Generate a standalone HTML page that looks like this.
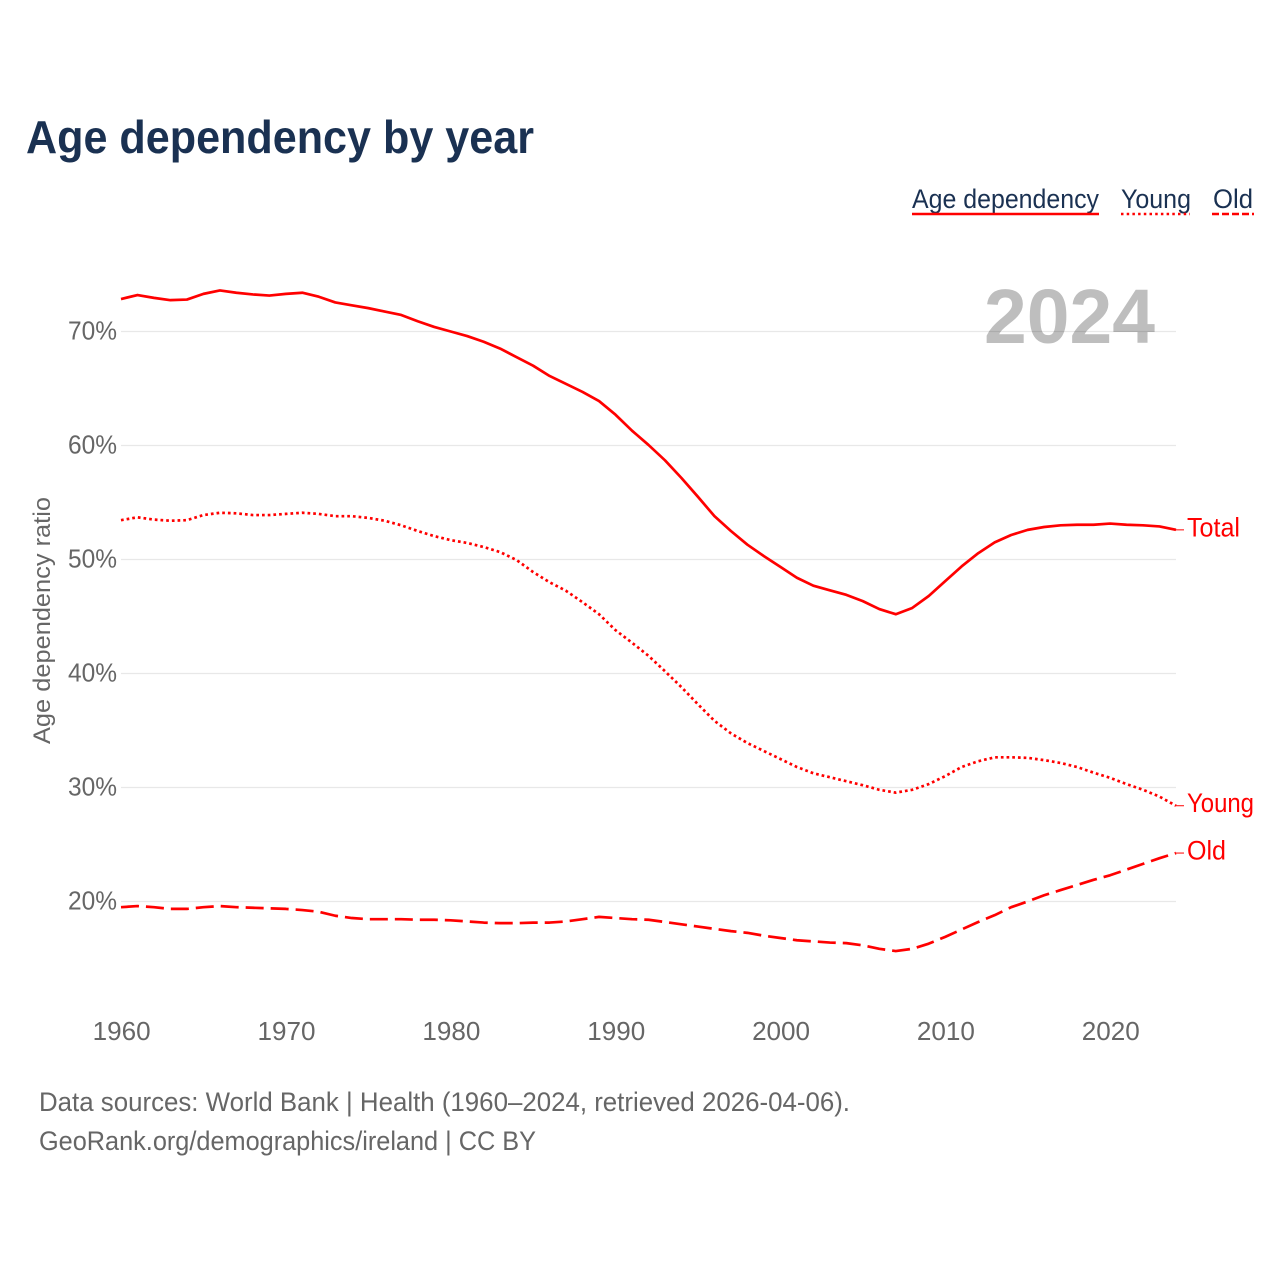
<!DOCTYPE html>
<html lang="en">
<head>
<meta charset="utf-8">
<title>Age dependency by year</title>
<style>
html,body{margin:0;padding:0;background:#fff}
svg{display:block}
text{font-family:"Liberation Sans",sans-serif}
</style>
</head>
<body>
<svg id="chart" width="1280" height="1280" viewBox="0 0 1280 1280" xmlns="http://www.w3.org/2000/svg">
  <rect x="0" y="0" width="1280" height="1280" fill="#fff"/>
  <text x="26" y="153" font-size="46" font-weight="700" fill="#1a3152" textLength="508" lengthAdjust="spacingAndGlyphs">Age dependency by year</text>

  <g>
    <g>
      <text x="912" y="208" font-size="27" fill="#1a3152" textLength="187" lengthAdjust="spacingAndGlyphs">Age dependency</text>
      <line x1="912" y1="214" x2="1099" y2="214" stroke="#ff0000" stroke-width="2.5"/>
    </g>
    <g>
      <text x="1121" y="208" font-size="27" fill="#1a3152" textLength="70" lengthAdjust="spacingAndGlyphs">Young</text>
      <line x1="1121" y1="214" x2="1190" y2="214" stroke="#ff0000" stroke-width="2.5" stroke-dasharray="2.5 3.2"/>
    </g>
    <g>
      <text x="1213" y="208" font-size="27" fill="#1a3152" textLength="40" lengthAdjust="spacingAndGlyphs">Old</text>
      <line x1="1212" y1="214" x2="1254" y2="214" stroke="#ff0000" stroke-width="2.5" stroke-dasharray="7 3"/>
    </g>
  </g>

  <text x="984" y="343" font-size="77" font-weight="700" fill="#bebebe" textLength="171" lengthAdjust="spacingAndGlyphs">2024</text>

  <g id="grid"></g>
  <g id="y-ticks"></g>
  <g id="x-ticks"></g>

  <text transform="translate(50,620.5) rotate(-90)" text-anchor="middle" font-size="24" fill="#666666" textLength="247" lengthAdjust="spacingAndGlyphs">Age dependency ratio</text>

  <g id="series"></g>
  <g id="end-labels"></g>

  <text x="39" y="1111" font-size="27" fill="#666666" textLength="811" lengthAdjust="spacingAndGlyphs">Data sources: World Bank | Health (1960–2024, retrieved 2026-04-06).</text>
  <text x="39" y="1150" font-size="27" fill="#666666" textLength="497" lengthAdjust="spacingAndGlyphs">GeoRank.org/demographics/ireland | CC BY</text>
</svg>
<script>
const startYear = 1960;
const totalValues = [72.85,73.2,72.95,72.75,72.8,73.3,73.6,73.4,73.25,73.15,73.3,73.4,73.05,72.55,72.3,72.05,71.75,71.45,70.9,70.4,70,69.6,69.1,68.5,67.75,67,66.1,65.4,64.7,63.9,62.7,61.3,60.05,58.7,57.15,55.5,53.8,52.5,51.3,50.3,49.35,48.4,47.7,47.3,46.9,46.35,45.65,45.2,45.75,46.8,48.1,49.4,50.55,51.5,52.15,52.6,52.85,53,53.05,53.05,53.15,53.05,53,52.9,52.6];
const youngValues = [53.45,53.7,53.5,53.4,53.45,53.9,54.1,54.05,53.9,53.9,54,54.1,54,53.8,53.8,53.65,53.4,53,52.5,52.05,51.7,51.45,51.1,50.65,49.95,48.9,48,47.25,46.25,45.2,43.8,42.7,41.55,40.2,38.8,37.3,35.85,34.75,33.9,33.2,32.5,31.8,31.25,30.9,30.55,30.2,29.8,29.55,29.8,30.3,31,31.8,32.3,32.65,32.65,32.6,32.4,32.15,31.8,31.3,30.85,30.3,29.8,29.2,28.4];
const oldValues = [19.5,19.6,19.5,19.35,19.35,19.5,19.6,19.5,19.45,19.4,19.35,19.25,19.1,18.75,18.55,18.45,18.45,18.45,18.4,18.4,18.35,18.25,18.15,18.1,18.1,18.15,18.15,18.25,18.45,18.65,18.55,18.45,18.4,18.2,18,17.8,17.6,17.4,17.25,17,16.8,16.6,16.5,16.4,16.35,16.15,15.85,15.65,15.85,16.3,16.9,17.55,18.2,18.8,19.5,20,20.55,21,21.45,21.9,22.3,22.8,23.3,23.8,24.25];
const yTickValues = [20,30,40,50,60,70];
const xTickValues = [1960,1970,1980,1990,2000,2010,2020];

const NS = 'http://www.w3.org/2000/svg';
const xScale = function (year) { return 121 + (year - 1960) * (1055 / 64); };
const yScale = function (value) { return 901.5 - (value - 20) * 11.4; };

function make(tag, parent, attrs, content) {
  const el = document.createElementNS(NS, tag);
  Object.keys(attrs).forEach(function (k) { el.setAttribute(k, attrs[k]); });
  if (content !== undefined) el.textContent = content;
  parent.appendChild(el);
  return el;
}

const gridGroup = document.getElementById('grid');
const yTickGroup = document.getElementById('y-ticks');
yTickValues.forEach(function (v) {
  const line = make('line', gridGroup, {x1: 121, x2: 1176, y1: yScale(v), y2: yScale(v), stroke: 'rgba(0,0,0,0.09)', 'stroke-width': 1.2});
  
  
  const label = make('text', yTickGroup, {x: 117, y: yScale(v) + 8, 'text-anchor': 'end', 'font-size': 26, fill: '#666666', textLength: 49, lengthAdjust: 'spacingAndGlyphs'}, v + '%');
  
  
});

const xTickGroup = document.getElementById('x-ticks');
xTickValues.forEach(function (year) {
  const label = make('text', xTickGroup, {x: xScale(year) + 0.7, y: 1040, 'text-anchor': 'middle', 'font-size': 26, fill: '#666666', textLength: 58, lengthAdjust: 'spacingAndGlyphs'}, String(year));
  
  
});

function pathFor(values) {
  return values.map(function (v, i) {
    return (i ? 'L' : 'M') + xScale(startYear + i).toFixed(2) + ' ' + yScale(v).toFixed(2);
  }).join(' ');
}

const seriesGroup = document.getElementById('series');
const labelGroup = document.getElementById('end-labels');

function drawSeries(values, dash, name, labelText, labelWidth) {
  const path = make('path', seriesGroup, {d: pathFor(values), fill: 'none', stroke: '#ff0000', 'stroke-width': 2.7, 'stroke-linejoin': 'round', 'stroke-dasharray': dash});
  
  
  const lastY = yScale(values[values.length - 1]);
  const tick = make('line', labelGroup, {x1: 1176, x2: 1184, y1: lastY, y2: lastY, stroke: '#ff0000', 'stroke-width': 1});
  
  
  const label = make('text', labelGroup, {x: 1187, y: lastY + 6.5, 'font-size': 27, fill: '#ff0000', textLength: labelWidth, lengthAdjust: 'spacingAndGlyphs'}, labelText);
  
  
}

drawSeries(totalValues, 'none', 'total', 'Total', 53);
drawSeries(youngValues, '2.7 3', 'young', 'Young', 67);
drawSeries(oldValues, '18 7', 'old', 'Old', 39);
</script>
</body>
</html>
